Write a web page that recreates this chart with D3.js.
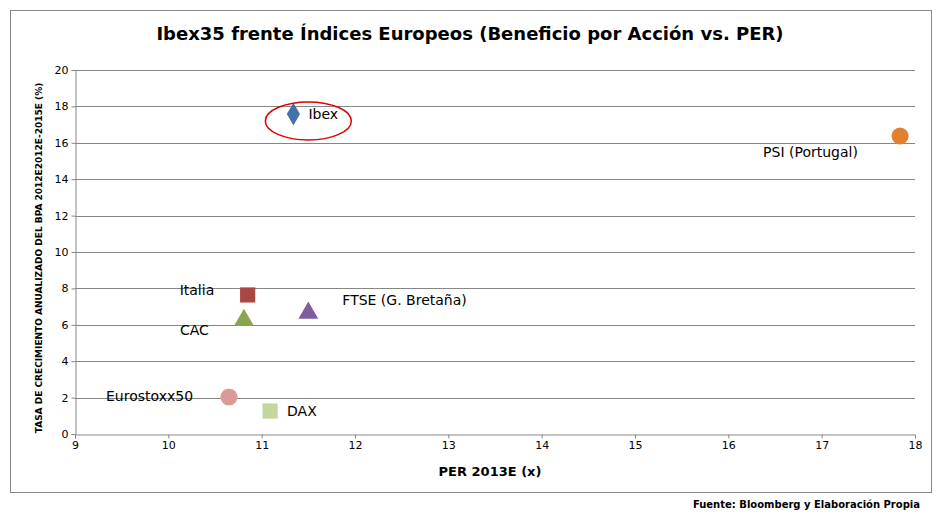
<!DOCTYPE html>
<html><head><meta charset="utf-8">
<script src="https://cdn.jsdelivr.net/npm/d3@7"></script>
<style>body{margin:0;background:#fff}text{font-family:"DejaVu Sans",Verdana,sans-serif}</style>
</head><body><svg id="c" width="941" height="512"></svg>
<script>
const names=["Ibex","PSI (Portugal)","Italia","FTSE (G. Bretaña)","CAC","Eurostoxx50","DAX"];
const perValues=[11.34,17.84,10.85,11.5,10.81,10.65,11.09];
const bpaValues=[17.58,16.37,7.64,6.65,6.26,2.03,1.26];
const symbols=["diamond","circle","square","triangle","triangle","circle","square"];
const colors=["#4572A7","#E3802F","#AA4643","#7D5FA0","#89A54E","#DB9A98","#C3D69B"];
const labelDx=[15,-137,-68,34,-64,-123,17];
const labelDy=[5,21,0,-8,15,4,5];
const xTicks=d3.range(9,19,1), yTicks=d3.range(0,22,2);

const svg=d3.select("#c");
svg.append("rect").attr("x",10.5).attr("y",10.5).attr("width",921).attr("height",482).attr("fill","none").attr("stroke","#888");
const x=d3.scaleLinear().domain([9,18]).range([75,915]);
const y=d3.scaleLinear().domain([0,20]).range([434,70]);
const g=svg.append("g");
g.selectAll(".gl").data(yTicks.slice(1)).join("line").attr("x1",75).attr("x2",915).attr("y1",d=>Math.round(y(d))+.5).attr("y2",d=>Math.round(y(d))+.5).attr("stroke","#868686");
const xa=svg.append("g").attr("transform","translate(0,434.5)").call(d3.axisBottom(x).tickValues(xTicks).tickSize(4).tickFormat(d3.format("d")));
const ya=svg.append("g").attr("transform","translate(75.5,0)").call(d3.axisLeft(y).tickValues(yTicks).tickSize(4).tickFormat(d3.format("d")));
[xa,ya].forEach(a=>{a.selectAll("path,line").attr("stroke","#868686");a.selectAll("text").attr("font-size",11).attr("fill","#000");});
svg.append("text").attr("x",470).attr("y",40).attr("text-anchor","middle").attr("font-size",18).attr("font-weight","bold").text("Ibex35 frente Índices Europeos (Beneficio por Acción vs. PER)");
svg.append("text").attr("x",490).attr("y",476).attr("text-anchor","middle").attr("font-size",13).attr("font-weight","bold").text("PER 2013E (x)");
svg.append("text").attr("transform","translate(42,258) rotate(-90)").attr("text-anchor","middle").attr("font-size",9).attr("font-weight","bold").text("TASA DE CRECIMIENTO  ANUALIZADO DEL BPA 2012E2012E-2015E (%)");
svg.append("text").attr("x",920).attr("y",508).attr("text-anchor","end").attr("font-size",10).attr("font-weight","bold").text("Fuente:  Bloomberg y Elaboración Propia");
const sym={diamond:[d3.symbolDiamond,150],circle:[d3.symbolCircle,230],square:[d3.symbolSquare,230],triangle:[d3.symbolTriangle,170]};
names.forEach((n,i)=>{
  const px=x(perValues[i]),py=y(bpaValues[i]);
  svg.append("path").attr("d",d3.symbol(sym[symbols[i]][0],sym[symbols[i]][1])()).attr("transform",`translate(${px},${py})`).attr("fill",colors[i]);
  svg.append("text").attr("x",px+labelDx[i]).attr("y",py+labelDy[i]).attr("font-size",14).attr("fill","#000").text(n);
});
svg.append("ellipse").attr("cx",x(11.5)).attr("cy",y(17.2)).attr("rx",43).attr("ry",19).attr("fill","none").attr("stroke","#e00000").attr("stroke-width",1.5);
</script></body></html>
